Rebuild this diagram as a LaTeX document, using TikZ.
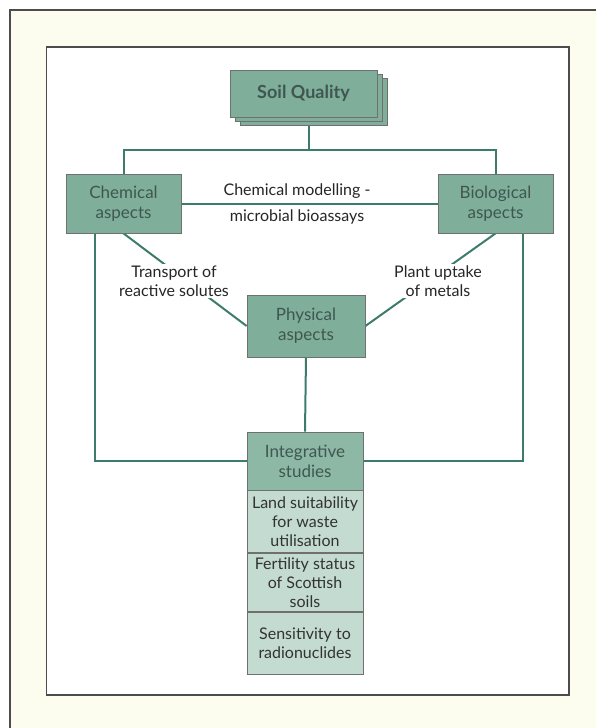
\documentclass[tikz,border=0pt]{standalone}
\usepackage{fontspec}
\setmainfont{Lato}
\usetikzlibrary{positioning,shadows}

\definecolor{cream}{HTML}{FDFDEF}
\definecolor{framegray}{HTML}{4C4C4C}
\definecolor{boxgreen}{HTML}{7FAE9A}
\definecolor{headgreen}{HTML}{8DB8A6}
\definecolor{partgreen}{HTML}{C3DBD0}
\definecolor{boxline}{HTML}{707070}
\definecolor{boxtext}{HTML}{3F5750}
\definecolor{linkteal}{HTML}{3D7C6C}

\pgfdeclarelayer{bg}
\pgfdeclarelayer{edges}
\pgfsetlayers{bg,edges,main}

\begin{document}
\begin{tikzpicture}[x=1pt,y=-1pt,
  aspect/.style={draw=boxline,line width=0.8pt,fill=boxgreen,text=boxtext,align=center,
    minimum width=115pt,minimum height=59pt,inner sep=0pt,font=\fontsize{17}{20}\selectfont},
  soilbox/.style={aspect,minimum width=147pt,minimum height=47pt,
    font=\bfseries\fontsize{18}{21}\selectfont,
    double copy shadow={shadow xshift=5pt,shadow yshift=-4pt}},
  integhead/.style={aspect,fill=headgreen,minimum width=116pt,minimum height=58pt},
  integpart/.style={aspect,fill=partgreen,text=black!80,minimum width=116pt,
    font=\fontsize{16}{19}\selectfont},
  note/.style={align=center,inner sep=2pt,text=black!85,font=\fontsize{16}{18.5}\selectfont},
  conn/.style={draw=linkteal,line width=2pt}]

\useasboundingbox (0,0) rectangle (596,728);

\begin{pgfonlayer}{bg}
\draw[line width=2.5pt,draw=framegray,fill=cream] (10,10) rectangle (620,750);
\draw[line width=1.5pt,draw=framegray,fill=white] (46.5,47) rectangle (569,695);
\end{pgfonlayer}

\node[soilbox] at (303.5,93.5) (soil) {Soil Quality};
\node[aspect] at (123.5,203.5) (chem) {Chemical\\aspects};
\node[aspect] at (495.5,203.5) (bio) {Biological\\aspects};
\node[aspect,minimum width=118pt,minimum height=62pt] at (306,326) (phys) {Physical\\aspects};

\node[integhead] at (305,461) (integ) {Integrative\\studies};
\node[integpart,minimum height=62pt,below=0pt of integ] (land) {Land suitability\\for waste\\utilisation};
\node[integpart,minimum height=58pt,below=0pt of land] (fert) {Fertility status\\of Scottish\\soils};
\node[integpart,minimum height=62pt,below=0pt of fert] (sens) {Sensitivity to\\radionuclides};

\node[note] at (297,191) (model) {Chemical modelling -};
\node[note] at (297,217) (bioassay) {microbial bioassays};
\node[note,fill=white] at (174,281) (transport) {Transport of\\reactive solutes};
\node[note,fill=white] at (438,281) (uptake) {Plant uptake\\of metals};

\begin{pgfonlayer}{edges}
\draw[conn] ([xshift=5pt]soil.south) -- ++(0,33) coordinate (fork);
\draw[conn] (chem.north) |- (fork) -| (bio.north);
\draw[conn] (chem.east) -- (bio.west);
\draw[conn] (chem.south) -- (phys.west);
\draw[conn] (bio.south) -- (phys.east);
\draw[conn] (phys.south) -- (integ.north);
\draw[conn] ([xshift=-29pt]chem.south) |- (integ.west);
\draw[conn] ([xshift=27pt]bio.south) |- (integ.east);
\end{pgfonlayer}
\end{tikzpicture}
\end{document}
